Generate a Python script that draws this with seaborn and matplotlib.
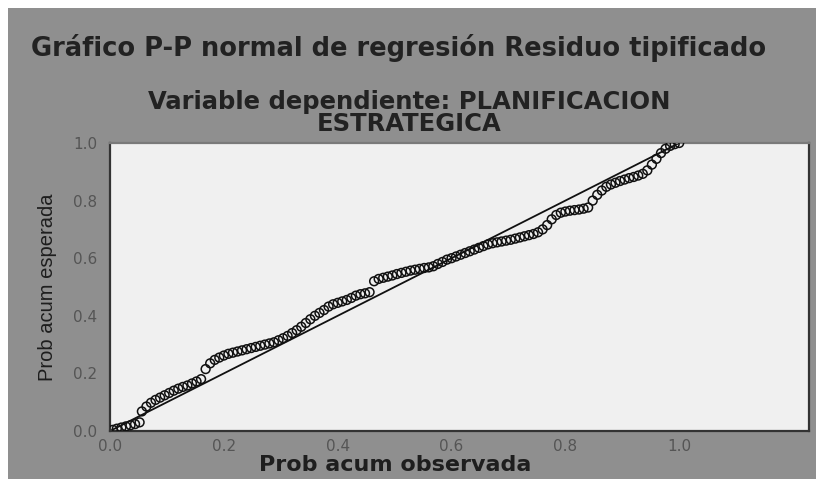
import matplotlib
matplotlib.use("Agg")
import matplotlib.pyplot as plt
from matplotlib.patches import Rectangle
import seaborn as sns

# P-P plot values
prob_observed = [
    0.005, 0.012, 0.020, 0.028, 0.036, 0.044, 0.052,
    0.056, 0.064, 0.072, 0.080, 0.088, 0.096, 0.104, 0.112, 0.120, 0.128,
    0.136, 0.144, 0.152, 0.160,
    0.168, 0.176, 0.184, 0.192, 0.200, 0.208, 0.216, 0.224, 0.232, 0.240,
    0.248, 0.256, 0.264, 0.272, 0.280, 0.288, 0.296, 0.304, 0.312, 0.320,
    0.328, 0.336, 0.344, 0.352, 0.360, 0.368, 0.376, 0.384, 0.392, 0.400,
    0.408, 0.416, 0.424, 0.432, 0.440, 0.448, 0.456,
    0.464, 0.472, 0.480, 0.488, 0.496, 0.504, 0.512, 0.520, 0.528, 0.536,
    0.544, 0.552, 0.560, 0.568, 0.576, 0.584, 0.592, 0.600, 0.608, 0.616,
    0.624, 0.632, 0.640, 0.648, 0.656, 0.664, 0.672, 0.680, 0.688, 0.696,
    0.704, 0.712, 0.720, 0.728, 0.736, 0.744, 0.752, 0.760, 0.768, 0.776,
    0.784, 0.792, 0.800, 0.808, 0.816, 0.824, 0.832, 0.840, 0.848, 0.856,
    0.864, 0.872, 0.880, 0.888, 0.896, 0.904, 0.912, 0.920, 0.928, 0.936,
    0.944, 0.952, 0.960, 0.968, 0.976, 0.984, 0.992, 1.000,
]
prob_expected = [
    0.004, 0.008, 0.012, 0.016, 0.020, 0.024, 0.030,
    0.068, 0.085, 0.098, 0.108, 0.116, 0.124, 0.132, 0.140, 0.147, 0.153,
    0.158, 0.165, 0.172, 0.180,
    0.215, 0.235, 0.247, 0.255, 0.262, 0.268, 0.272, 0.276, 0.280, 0.284,
    0.288, 0.292, 0.296, 0.300, 0.304, 0.308, 0.315, 0.322, 0.330, 0.340,
    0.350, 0.362, 0.375, 0.388, 0.400, 0.410, 0.420, 0.432, 0.440, 0.445,
    0.450, 0.455, 0.462, 0.470, 0.475, 0.478, 0.482,
    0.520, 0.528, 0.532, 0.536, 0.540, 0.545, 0.549, 0.553, 0.557, 0.560,
    0.563, 0.566, 0.568, 0.572, 0.580, 0.587, 0.595, 0.600, 0.606, 0.612,
    0.618, 0.624, 0.630, 0.636, 0.642, 0.648, 0.652, 0.655, 0.658, 0.661,
    0.664, 0.668, 0.672, 0.676, 0.680, 0.684, 0.690, 0.700, 0.715, 0.735,
    0.750, 0.758, 0.762, 0.765, 0.767, 0.769, 0.772, 0.776, 0.800, 0.820,
    0.835, 0.848, 0.856, 0.862, 0.868, 0.873, 0.878, 0.882, 0.887, 0.893,
    0.905, 0.925, 0.945, 0.965, 0.980, 0.990, 0.996, 1.000,
]
reference_line = [0.0, 1.0]
tick_values = [0.0, 0.2, 0.4, 0.6, 0.8, 1.0]
tick_labels = ["0.0", "0.2", "0.4", "0.6", "0.8", "1.0"]

title = "Gráfico P-P normal de regresión Residuo tipificado"
subtitle = "Variable dependiente: PLANIFICACION\nESTRATEGICA"
x_label = "Prob acum observada"
y_label = "Prob acum esperada"

sns.set_style("white")
plt.rcParams['font.family'] = ['DejaVu Sans']

bg_gray = "#8f8f8f"
fig = plt.figure(figsize=(8.16, 4.79), dpi=100)
fig.patch.set_facecolor("white")
fig.patches.append(Rectangle((8 / 816, 0), 1 - 8 / 816, 1 - 8 / 479,
                             transform=fig.transFigure, facecolor=bg_gray,
                             edgecolor="none", zorder=0))

ax = fig.add_axes([110 / 816, 1 - 431 / 479, 699 / 816, 288 / 479])
ax.set_zorder(2)
ax.set_facecolor("#f0f0f0")

ax.plot(reference_line, reference_line, color="#111111", linewidth=1.3, zorder=2)
sns.scatterplot(x=prob_observed, y=prob_expected, ax=ax, marker="o",
                s=40, facecolor="none", edgecolor="#111111", linewidth=1.1,
                zorder=3)

ax.set_xlim(0, 1.228)
ax.set_ylim(0, 1.0)
ax.set_xticks(tick_values)
ax.set_xticklabels(tick_labels)
ax.set_yticks(tick_values)
ax.set_yticklabels(tick_labels)
ax.tick_params(axis="both", direction="out", colors="#2a2a2a",
               labelcolor="#555555", labelsize=11, width=1.5)
ax.tick_params(axis="y", length=8, pad=1)
ax.tick_params(axis="x", length=4, pad=2)

for side in ["left", "bottom", "right"]:
    ax.spines[side].set_color("#333333")
    ax.spines[side].set_linewidth(1.6)
ax.spines["top"].set_color("#7a7a7a")
ax.spines["top"].set_linewidth(1.6)

ax.set_xlabel(x_label, fontsize=16, fontweight="bold", color="#1e1e1e")
ax.xaxis.set_label_coords(0.408, -0.083)
ax.set_ylabel(y_label, fontsize=14.5, color="#1e1e1e",
              family=["Liberation Sans Narrow", "Liberation Sans"])
ax.yaxis.set_label_coords(-0.076, 0.5)

fig.text(0.488, 1 - 48 / 479, title, ha="center", va="center",
         fontsize=18.5, fontweight="bold", color="#222222")
fig.text(0.501, 1 - 113 / 479, subtitle, ha="center", va="center",
         fontsize=17.5, fontweight="bold", color="#222222", linespacing=0.86)

fig.savefig("out.png", dpi=100, facecolor=fig.get_facecolor())
